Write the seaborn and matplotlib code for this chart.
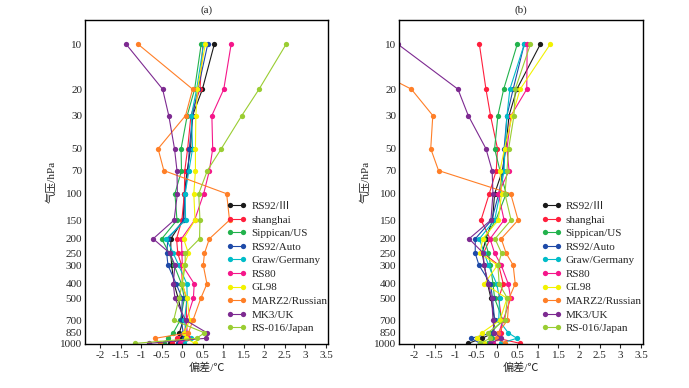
import matplotlib
matplotlib.use('Agg')
import matplotlib.pyplot as plt
import seaborn as sns
import pandas as pd
import numpy as np
from matplotlib.ticker import FixedLocator, NullLocator

sns.set_style('ticks')
plt.rcParams['font.family'] = ['Liberation Serif', 'Noto Sans CJK SC']
plt.rcParams['axes.unicode_minus'] = False

# Niveles de presion (hPa); 925 no lleva etiqueta
levels = [10, 20, 30, 50, 70, 100, 150, 200, 250, 300, 400, 500, 700, 850, 925, 1000]
tick_levels = [10, 20, 30, 50, 70, 100, 150, 200, 250, 300, 400, 500, 700, 850, 1000]

sondes = ['RS92/Ⅲ', 'shanghai', 'Sippican/US', 'RS92/Auto', 'Graw/Germany',
          'RS80', 'GL98', 'MARZ2/Russian', 'MK3/UK', 'RS-016/Japan']
colors = ['#1a1a1a', '#ff1f3d', '#22b24c', '#1e4aa8', '#00bcc8',
          '#f5168a', '#f2f200', '#ff7f27', '#7d2a91', '#9acd32']

# Panel (a)
a_rs92_3 = [0.78, 0.49, 0.25, 0.20, 0.12, 0.05, 0.02, -0.28, -0.28, -0.26, -0.20, -0.10, 0.02, -0.07, 0.00, -0.30]
a_shanghai = [0.50, 0.43, 0.21, 0.13, 0.06, 0.05, -0.01, -0.14, -0.11, -0.02, 0.00, 0.10, 0.10, 0.05, -0.12, -0.25]
a_sippican = [0.46, 0.30, 0.12, -0.03, -0.02, -0.18, -0.13, -0.50, -0.32, -0.20, -0.02, 0.05, -0.05, -0.22, -0.35, -0.45]
a_rs92_auto = [0.62, 0.38, 0.25, 0.17, 0.14, 0.06, 0.04, -0.35, -0.38, -0.35, -0.15, 0.00, -0.02, 0.02, 0.05, -0.10]
a_graw = [0.52, 0.35, 0.22, 0.25, 0.16, 0.07, 0.08, -0.39, -0.22, -0.09, 0.11, 0.12, 0.05, 0.10, 0.21, 0.05]
a_rs80 = [1.19, 1.01, 0.72, 0.74, 0.66, 0.52, 0.30, -0.02, -0.01, 0.00, 0.29, 0.27, 0.10, 0.12, 0.15, -0.05]
a_gl98 = [0.56, 0.37, 0.33, 0.32, 0.32, 0.28, 0.31, 0.03, 0.15, 0.05, -0.01, 0.12, 0.18, 0.04, 0.10, 0.30]
a_marz2 = [-1.08, 0.25, 0.08, -0.59, -0.45, 1.08, 1.15, 0.66, 0.54, 0.51, 0.60, 0.45, 0.26, 0.15, -0.66, -0.55]
a_mk3 = [-1.37, -0.48, -0.33, -0.19, -0.13, -0.12, -0.20, -0.71, -0.30, -0.18, -0.22, -0.18, 0.08, 0.60, 0.57, -0.82]
a_rs016 = [2.53, 1.87, 1.45, 0.95, 0.61, 0.40, 0.43, 0.42, 0.07, 0.07, 0.00, -0.08, -0.21, 0.54, 0.35, -1.15]

# Panel (b)
b_rs92_3 = [1.06, 0.49, 0.30, 0.22, 0.14, -0.05, -0.10, -0.26, -0.35, -0.30, -0.22, -0.14, -0.05, -0.08, -0.35, -0.69]
b_shanghai = [-0.42, -0.26, -0.15, 0.02, -0.01, -0.18, -0.38, -0.16, -0.32, 0.05, 0.16, 0.05, 0.12, 0.11, 0.02, 0.57]
b_sippican = [0.50, 0.17, 0.03, -0.05, 0.08, 0.23, -0.02, -0.30, -0.20, -0.15, -0.09, -0.05, 0.15, -0.15, -0.12, -0.20]
b_rs92_auto = [0.67, 0.40, 0.25, 0.18, 0.16, 0.05, -0.12, -0.52, -0.52, -0.43, -0.15, -0.10, -0.05, -0.10, -0.62, -0.40]
b_graw = [0.67, 0.32, 0.25, 0.20, 0.18, 0.08, -0.05, -0.42, -0.30, -0.20, 0.00, 0.07, 0.05, 0.28, 0.49, 0.10]
b_rs80 = [0.74, 0.73, 0.35, 0.25, 0.30, 0.04, 0.18, -0.16, -0.05, 0.11, 0.28, 0.34, 0.16, 0.05, 0.05, -0.10]
b_gl98 = [1.30, 0.57, 0.38, 0.19, 0.08, 0.12, 0.04, -0.34, -0.40, 0.02, -0.30, 0.25, 0.08, -0.36, -0.47, -0.30]
b_marz2 = [-4.2, -2.07, -1.55, -1.60, -1.41, 0.34, 0.52, 0.11, 0.23, 0.40, 0.45, 0.30, 0.26, 0.04, 0.02, 0.20]
b_mk3 = [-2.40, -0.94, -0.69, -0.26, -0.11, -0.09, -0.14, -0.67, -0.32, -0.31, -0.20, -0.12, -0.09, -0.06, 0.11, -0.15]
b_rs016 = [0.82, 0.45, 0.42, 0.29, 0.25, 0.20, 0.35, -0.04, 0.12, 0.03, 0.06, 0.26, 0.20, -0.22, -0.16, -0.40]

panel_a = [a_rs92_3, a_shanghai, a_sippican, a_rs92_auto, a_graw, a_rs80, a_gl98, a_marz2, a_mk3, a_rs016]
panel_b = [b_rs92_3, b_shanghai, b_sippican, b_rs92_auto, b_graw, b_rs80, b_gl98, b_marz2, b_mk3, b_rs016]

xticks = [-2, -1.5, -1, -0.5, 0, 0.5, 1, 1.5, 2, 2.5, 3, 3.5]
xtick_labels = ['-2', '-1.5', '-1', '-0.5', '0', '0.5', '1', '1.5', '2', '2.5', '3', '3.5']


def draw_panel(ax, series, title):
    df = pd.DataFrame({
        'level': levels * len(sondes),
        'bias': np.concatenate(series),
        'sonde': np.repeat(sondes, len(levels)),
    })
    sns.lineplot(data=df, x='bias', y='level', hue='sonde', hue_order=sondes,
                 palette=colors, orient='y', estimator=None, marker='o',
                 markersize=3.8, markeredgewidth=0, linewidth=0.8, ax=ax)
    ax.set_yscale('log')
    ax.set_ylim(1010, 6.9)
    ax.yaxis.set_major_locator(FixedLocator(tick_levels))
    ax.yaxis.set_minor_locator(NullLocator())
    ax.set_yticklabels([str(v) for v in tick_levels])
    ax.set_xlim(-2.37, 3.55)
    ax.set_xticks(xticks)
    ax.set_xticklabels(xtick_labels)
    ax.tick_params(axis='y', length=0, pad=2, labelsize=8)
    ax.tick_params(axis='x', length=3, width=0.8, direction='out', labelsize=8, pad=2)
    for s in ax.spines.values():
        s.set_linewidth(1.0)
        s.set_color('black')
    ax.set_title(title, fontsize=8, pad=5)
    ax.set_xlabel('偏差/℃', fontsize=8, labelpad=2)
    ax.set_ylabel('气压/hPa', fontsize=8, labelpad=3)

    # leyenda con dos marcadores por entrada
    handles, labels = ax.get_legend_handles_labels()
    ax.get_legend().remove()
    ax.legend(handles, labels, numpoints=2, frameon=False, loc='lower left',
              bbox_to_anchor=(0.565, 0.02), fontsize=8, handlelength=1.8,
              labelspacing=0.34, handletextpad=0.4, borderaxespad=0)


fig = plt.figure(figsize=(6.89, 3.88), dpi=100)
ax_a = fig.add_axes([0.1234, 0.1134, 0.3527, 0.835])
ax_b = fig.add_axes([0.5791, 0.1134, 0.3541, 0.835])
draw_panel(ax_a, panel_a, '(a)')
draw_panel(ax_b, panel_b, '(b)')

fig.savefig('out.png', dpi=100)
